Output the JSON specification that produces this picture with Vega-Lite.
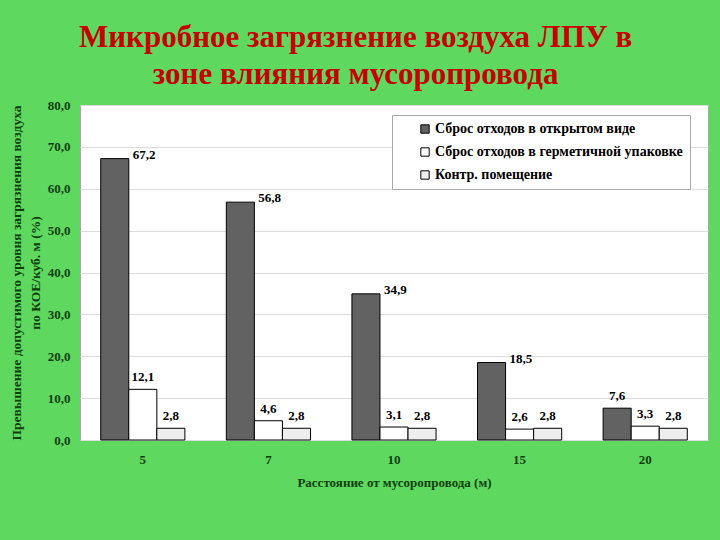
{
  "$schema": "https://vega.github.io/schema/vega-lite/v6.json",
  "width": 628,
  "height": 335,
  "autosize": "none",
  "padding": {"left": 80, "top": 105, "right": 12, "bottom": 100},
  "background": "#5fd85f",
  "title": {
    "text": ["Микробное загрязнение воздуха ЛПУ в", "зоне влияния мусоропровода"],
    "font": "Liberation Serif",
    "fontSize": 31,
    "fontWeight": "bold",
    "color": "#c80000",
    "lineHeight": 37,
    "anchor": "middle",
    "frame": "bounds",
    "offset": 8,
    "dx": -3
  },
  "data": {
    "values": [
      {"dist": "5", "series": "Сброс отходов в открытом виде", "value": 67.2},
      {"dist": "5", "series": "Сброс отходов в герметичной упаковке", "value": 12.1},
      {"dist": "5", "series": "Контр. помещение", "value": 2.8},
      {"dist": "7", "series": "Сброс отходов в открытом виде", "value": 56.8},
      {"dist": "7", "series": "Сброс отходов в герметичной упаковке", "value": 4.6},
      {"dist": "7", "series": "Контр. помещение", "value": 2.8},
      {"dist": "10", "series": "Сброс отходов в открытом виде", "value": 34.9},
      {"dist": "10", "series": "Сброс отходов в герметичной упаковке", "value": 3.1},
      {"dist": "10", "series": "Контр. помещение", "value": 2.8},
      {"dist": "15", "series": "Сброс отходов в открытом виде", "value": 18.5},
      {"dist": "15", "series": "Сброс отходов в герметичной упаковке", "value": 2.6},
      {"dist": "15", "series": "Контр. помещение", "value": 2.8},
      {"dist": "20", "series": "Сброс отходов в открытом виде", "value": 7.6},
      {"dist": "20", "series": "Сброс отходов в герметичной упаковке", "value": 3.3},
      {"dist": "20", "series": "Контр. помещение", "value": 2.8}
    ]
  },
  "encoding": {
    "x": {
      "field": "dist",
      "type": "nominal",
      "sort": ["5", "7", "10", "15", "20"],
      "scale": {"paddingInner": 0.33, "paddingOuter": 0.165},
      "axis": {
        "title": "Расстояние от мусоропровода (м)",
        "labelAngle": 0,
        "domain": false,
        "ticks": false,
        "labelPadding": 13,
        "labelFont": "Liberation Serif",
        "labelFontSize": 13,
        "labelFontWeight": "bold",
        "labelColor": "#0f3f0f",
        "titleFont": "Liberation Serif",
        "titleFontSize": 13,
        "titleFontWeight": "bold",
        "titleColor": "#0f3f0f",
        "titlePadding": 10
      }
    },
    "xOffset": {
      "field": "series",
      "type": "nominal",
      "sort": ["Сброс отходов в открытом виде", "Сброс отходов в герметичной упаковке", "Контр. помещение"],
      "scale": {"paddingInner": 0, "paddingOuter": 0}
    },
    "y": {
      "field": "value",
      "type": "quantitative",
      "scale": {"domain": [0, 80], "nice": false},
      "axis": {
        "title": ["Превышение допустимого уровня загрязнения воздуха", "по КОЕ/куб. м (%)"],
        "values": [0, 10, 20, 30, 40, 50, 60, 70, 80],
        "format": ".1f",
        "domain": false,
        "ticks": false,
        "grid": true,
        "gridColor": "#dcdcdc",
        "labelPadding": 10,
        "labelFont": "Liberation Serif",
        "labelFontSize": 13,
        "labelFontWeight": "bold",
        "labelColor": "#0f3f0f",
        "titleFont": "Liberation Serif",
        "titleFontSize": 13.5,
        "titleFontWeight": "bold",
        "titleColor": "#0f3f0f",
        "titleLineHeight": 19,
        "titlePadding": 5
      }
    }
  },
  "layer": [
    {
      "mark": {"type": "bar", "stroke": "#000000", "strokeWidth": 1},
      "encoding": {
        "color": {
          "field": "series",
          "type": "nominal",
          "sort": ["Сброс отходов в открытом виде", "Сброс отходов в герметичной упаковке", "Контр. помещение"],
          "scale": {
            "domain": ["Сброс отходов в открытом виде", "Сброс отходов в герметичной упаковке", "Контр. помещение"],
            "range": ["#626262", "#ffffff", "#eeeeee"]
          },
          "legend": {
            "title": null,
            "orient": "none",
            "legendX": 312,
            "legendY": 10,
            "fillColor": "#ffffff",
            "strokeColor": "#a8a8a8",
            "padding": 7,
            "symbolType": "square",
            "symbolSize": 70,
            "symbolStrokeColor": "#000000",
            "symbolStrokeWidth": 1,
            "symbolOffset": 19,
            "labelFont": "Liberation Serif",
            "labelFontSize": 14,
            "labelFontWeight": "bold",
            "labelColor": "#000000",
            "labelLimit": 400,
            "labelOffset": 3,
            "rowPadding": 9
          }
        }
      }
    },
    {
      "transform": [{"filter": "datum.series === 'Сброс отходов в открытом виде' && datum.value > 10"}],
      "mark": {"type": "text", "align": "left", "baseline": "alphabetic", "dx": 18, "dy": 0, "font": "Liberation Serif", "fontSize": 13, "fontWeight": "bold", "color": "#000000"},
      "encoding": {"text": {"field": "value", "type": "quantitative", "format": ".1f"}}
    },
    {
      "transform": [{"filter": "!(datum.series === 'Сброс отходов в открытом виде' && datum.value > 10)"}],
      "mark": {"type": "text", "align": "center", "baseline": "alphabetic", "dy": -8, "font": "Liberation Serif", "fontSize": 13, "fontWeight": "bold", "color": "#000000"},
      "encoding": {"text": {"field": "value", "type": "quantitative", "format": ".1f"}}
    }
  ],
  "config": {
    "locale": {
      "number": {"decimal": ",", "thousands": " ", "grouping": [3], "currency": ["", ""]}
    },
    "view": {"stroke": "#a8a8a8", "strokeWidth": 1, "fill": "#ffffff"}
  }
}
